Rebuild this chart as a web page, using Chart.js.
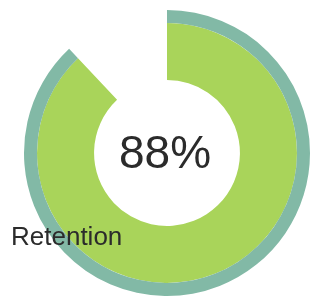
<!DOCTYPE html>
<html>
<head>
<meta charset="utf-8">
<script src="https://cdn.jsdelivr.net/npm/chart.js@4"></script>
<style>
  html, body { margin: 0; padding: 0; background: #fff; }
  #wrap { width: 310px; height: 297px; position: relative; }
</style>
</head>
<body>
<div id="wrap"><canvas id="chart"></canvas></div>
<script>
const labels = ['Retention', 'Rest']
const retention = [88, 12]
const centerText = '88%'
const label = 'Retention'

// writes the big percentage and the label on top of the ring
const textPlugin = {
  id: 'texts',
  afterDraw (chart) {
    const ctx = chart.ctx
    ctx.save()
    ctx.fillStyle = '#2b2b2b'
    ctx.font = '46px "Liberation Sans", Arial, sans-serif'
    ctx.textAlign = 'center'
    ctx.textBaseline = 'alphabetic'
    ctx.fillText(centerText, 165, 168)
    ctx.font = '26px "Liberation Sans", Arial, sans-serif'
    ctx.textAlign = 'left'
    ctx.fillText(label, 11, 245)
    ctx.restore()
  }
}

new Chart(document.getElementById('chart'), {
  type: 'doughnut',
  data: {
    labels: labels,
    datasets: [{
      data: retention,
      backgroundColor: ['#82b9a6', 'rgba(0,0,0,0)'],
      borderWidth: 0,
      weight: 13
    }, {
      data: retention,
      backgroundColor: ['#a9d45a', 'rgba(0,0,0,0)'],
      borderWidth: 0,
      weight: 57
    }]
  },
  options: {
    responsive: true,
    maintainAspectRatio: false,
    animation: false,
    cutout: '51%',
    layout: { padding: { left: 24, right: 0, top: 10, bottom: 1 } },
    plugins: {
      legend: { display: false },
      tooltip: { enabled: false }
    }
  },
  plugins: [textPlugin]
})
</script>
</body>
</html>
